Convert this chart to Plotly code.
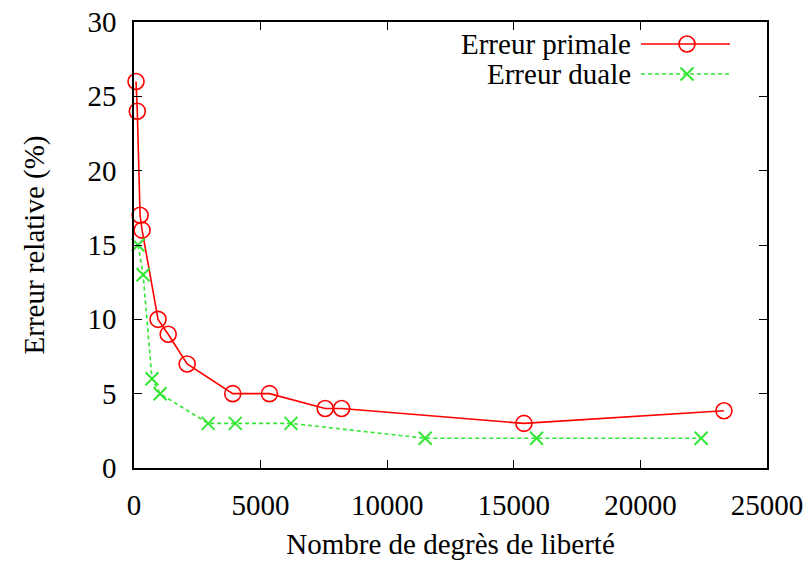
import plotly.graph_objects as go

# Data
primal_x = [80, 130, 240, 320, 950, 1350, 2100, 3900, 5350, 7550, 8200, 15400, 23300]
primal_y = [26, 24, 17, 16, 10, 9, 7, 5, 5, 4, 4, 3, 3.85]
dual_x = [160, 360, 710, 1030, 2930, 4000, 6200, 11500, 15900, 22400]
dual_y = [15, 13, 6, 5, 3, 3, 3, 2, 2, 2]

names = ["Erreur primale", "Erreur duale"]
x_ticks = [0, 5000, 10000, 15000, 20000, 25000]
y_ticks = [0, 5, 10, 15, 20, 25, 30]

RED = "#ff0000"
GREEN = "#33e633"
FONT = "'Liberation Serif', 'Times New Roman', Times, serif"
FS = 29

fig = go.Figure()
fig.add_trace(go.Scatter(
    x=primal_x, y=primal_y, mode="lines+markers", name=names[0],
    line=dict(color=RED, width=1.6),
    marker=dict(symbol="circle-open", size=16, color=RED, line=dict(width=1.6, color=RED)),
    showlegend=False, cliponaxis=False))
fig.add_trace(go.Scatter(
    x=dual_x, y=dual_y, mode="lines+markers", name=names[1],
    line=dict(color=GREEN, width=1.6, dash="4px,3px"),
    marker=dict(symbol="x-thin-open", size=13, color=GREEN, line=dict(width=2, color=GREEN)),
    showlegend=False, cliponaxis=False))

# Legend samples (gnuplot style: text on left, sample on right) on a hidden overlay axis
leg_y = [0.9507, 0.8834]
styles = [
    dict(line=dict(color=RED, width=1.6),
         marker=dict(symbol="circle-open", size=16, color=RED, line=dict(width=1.6, color=RED))),
    dict(line=dict(color=GREEN, width=1.6, dash="4px,3px"),
         marker=dict(symbol="x-thin-open", size=13, color=GREEN, line=dict(width=2, color=GREEN))),
]
for i, nm in enumerate(names):
    fig.add_trace(go.Scatter(x=[0.801, 0.9415], y=[leg_y[i]] * 2, mode="lines",
                             line=styles[i]["line"], xaxis="x2", yaxis="y2",
                             showlegend=False, hoverinfo="skip"))
    fig.add_trace(go.Scatter(x=[0.8736], y=[leg_y[i]], mode="markers",
                             marker=styles[i]["marker"], xaxis="x2", yaxis="y2",
                             showlegend=False, hoverinfo="skip"))
    fig.add_annotation(x=0.788, y=leg_y[i], xref="x2", yref="y2", text=nm,
                       showarrow=False, xanchor="right", yanchor="middle",
                       font=dict(family=FONT, size=FS, color="black"))

axis_common = dict(showgrid=False, zeroline=False, showline=True, linecolor="black",
                   linewidth=1.5, ticks="inside", ticklen=8, tickcolor="black",
                   tickwidth=1.2, mirror="ticks", automargin=False,
                   tickfont=dict(family=FONT, size=FS, color="black"))

fig.update_layout(
    width=812, height=563,
    margin=dict(l=134, r=45, t=22, b=95),
    paper_bgcolor="white", plot_bgcolor="white",
    font=dict(family=FONT, size=FS, color="black"),
    xaxis=dict(range=[0, 25000], tickvals=x_ticks, ticktext=[str(v) for v in x_ticks],
               title=dict(text="Nombre de degrès de liberté",
                          font=dict(family=FONT, size=FS, color="black"), standoff=14),
               ticklabelstandoff=10, **axis_common),
    yaxis=dict(range=[0, 30], tickvals=y_ticks, ticktext=[str(v) for v in y_ticks],
               title=dict(text="Erreur relative (%)",
                          font=dict(family=FONT, size=FS, color="black"), standoff=34),
               ticklabelstandoff=10, **axis_common),
    xaxis2=dict(range=[0, 1], overlaying="x", visible=False, fixedrange=True),
    yaxis2=dict(range=[0, 1], overlaying="y", visible=False, fixedrange=True),
)

fig.write_html("out.html")
